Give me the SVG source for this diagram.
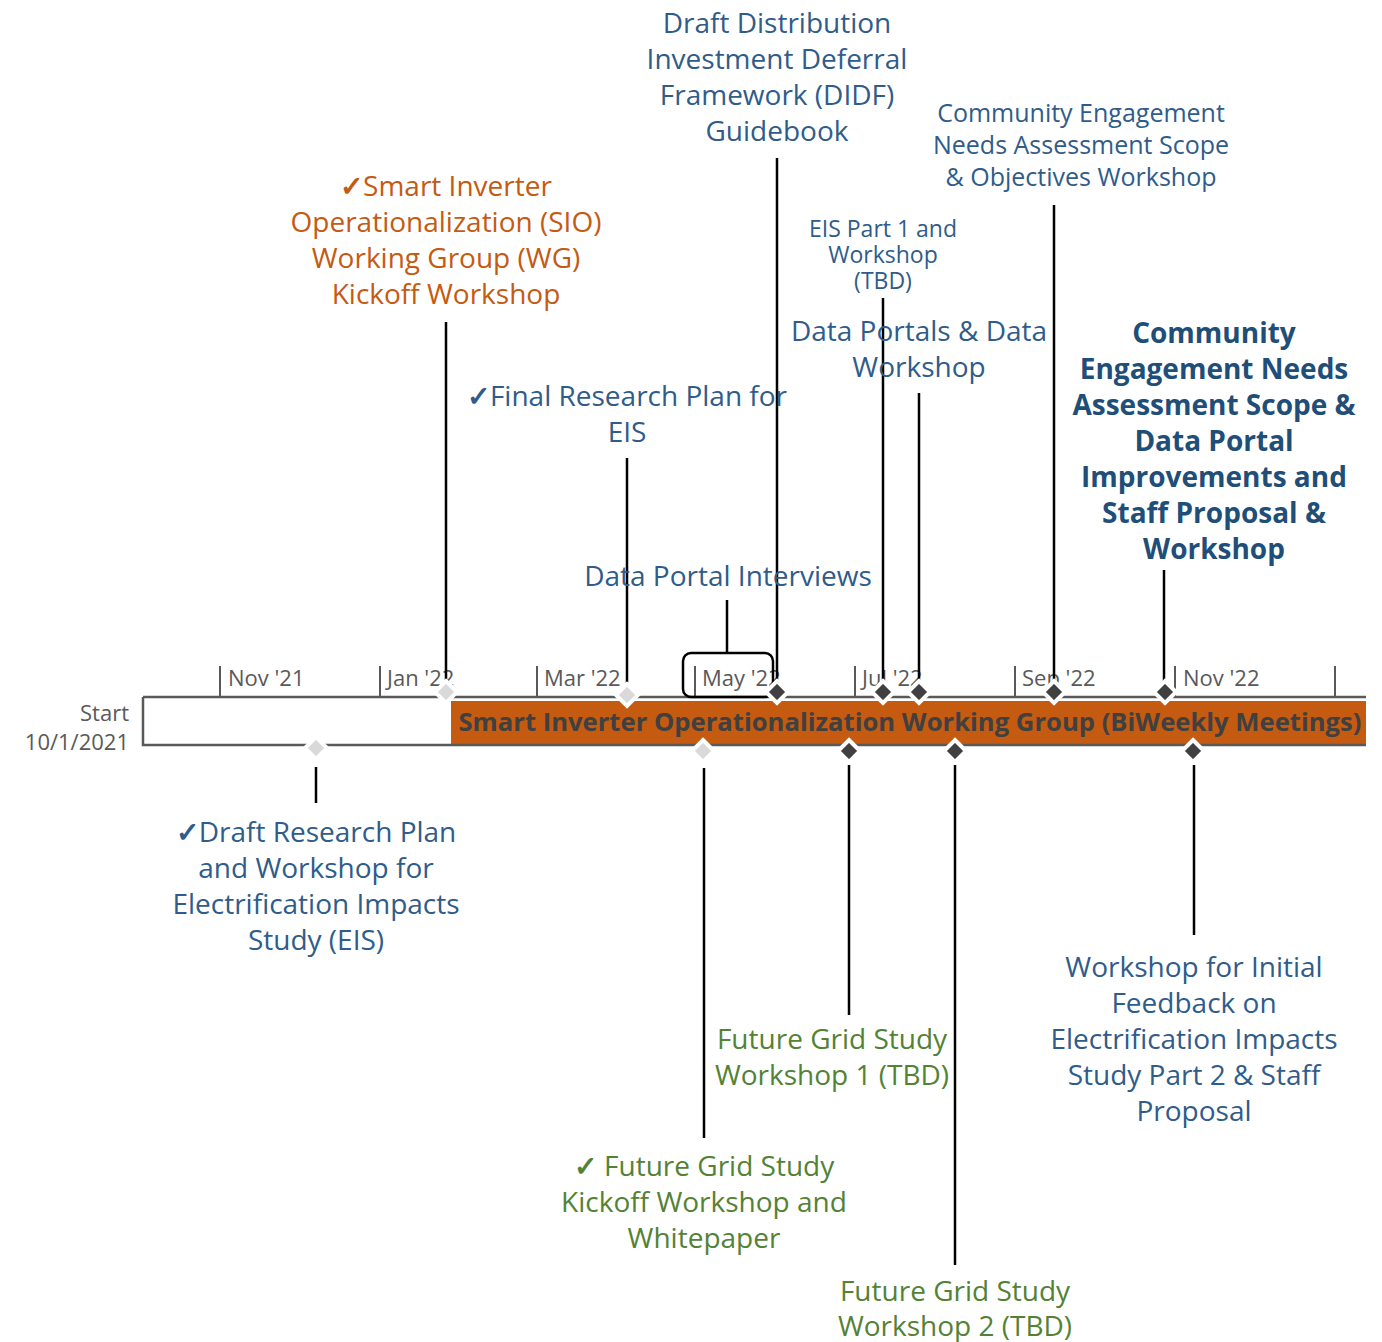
<svg xmlns="http://www.w3.org/2000/svg" width="1382" height="1342" viewBox="0 0 1382 1342">
<style>
text{font-family:"Open Sans","Noto Sans","Liberation Sans",sans-serif;text-anchor:middle}
.b{fill:#2F5C8A;font-size:28px}
.bs{fill:#2F5C8A;font-size:25px}
.bx{fill:#2F5C8A;font-size:23px}
.o{fill:#C55A11;font-size:28px}
.g{fill:#548235;font-size:28px}
.bb{fill:#1F4E79;font-size:28px;font-weight:bold}
.tk{fill:#595959;font-size:22px;text-anchor:start}
.st{fill:#595959;font-size:22px;text-anchor:end}
.ck{font-weight:bold}
.ln{stroke:#000;stroke-width:2.5;fill:none}
.tick{stroke:#595959;stroke-width:2}
.dk{fill:#404040;stroke:#fff;stroke-width:4}
.lt{fill:#D9D9D9;stroke:#fff;stroke-width:4}
</style>
<rect width="1382" height="1342" fill="#fff"/>
<g id="timeline">
<rect x="451" y="701" width="915" height="45" fill="#C55A11"/>
<path d="M143,697 H1366 M143,697 V745 H1366" stroke="#595959" stroke-width="2.5" fill="none"/>
<line class="tick" x1="220" y1="666" x2="220" y2="697"/>
<line class="tick" x1="380" y1="666" x2="380" y2="697"/>
<line class="tick" x1="537" y1="666" x2="537" y2="697"/>
<line class="tick" x1="695" y1="666" x2="695" y2="697"/>
<line class="tick" x1="855" y1="666" x2="855" y2="697"/>
<line class="tick" x1="1015" y1="666" x2="1015" y2="697"/>
<line class="tick" x1="1175" y1="666" x2="1175" y2="697"/>
<line class="tick" x1="1335" y1="666" x2="1335" y2="697"/>
<text class="tk" x="228" y="686">Nov '21</text>
<text class="tk" x="387" y="686">Jan '22</text>
<text class="tk" x="544" y="686">Mar '22</text>
<text class="tk" x="702" y="686">May '22</text>
<text class="tk" x="862" y="686">Jul '22</text>
<text class="tk" x="1022" y="686">Sep '22</text>
<text class="tk" x="1183" y="686">Nov '22</text>
<text class="st" x="129" y="721">Start</text>
<text class="st" x="129" y="750">10/1/2021</text>
<text x="910" y="731" style="font-size:25px;font-weight:bold;fill:#404040" textLength="903" lengthAdjust="spacingAndGlyphs">Smart Inverter Operationalization Working Group (BiWeekly Meetings)</text>
</g>
<g id="connectors">
<line class="ln" x1="446" y1="322" x2="446" y2="690"/>
<line class="ln" x1="627" y1="458" x2="627" y2="690"/>
<line class="ln" x1="777" y1="158" x2="777" y2="690"/>
<line class="ln" x1="883" y1="298" x2="883" y2="690"/>
<line class="ln" x1="919" y1="393" x2="919" y2="690"/>
<line class="ln" x1="1054" y1="205" x2="1054" y2="690"/>
<line class="ln" x1="1164" y1="570" x2="1164" y2="690"/>
<line class="ln" x1="727" y1="600" x2="727" y2="653"/>
<rect class="ln" x="683" y="653" width="90" height="44" rx="8"/>
<line class="ln" x1="316" y1="767" x2="316" y2="803"/>
<line class="ln" x1="704" y1="768" x2="704" y2="1138"/>
<line class="ln" x1="849" y1="765" x2="849" y2="1015"/>
<line class="ln" x1="955" y1="765" x2="955" y2="1265"/>
<line class="ln" x1="1194" y1="765" x2="1194" y2="935"/>
</g>
<g id="markers">
<path class="lt" d="M446,681 l11,11 l-11,11 l-11,-11z"/>
<path class="lt" d="M627,684 l11,11 l-11,11 l-11,-11z"/>
<path class="dk" d="M777,681 l11,11 l-11,11 l-11,-11z"/>
<path class="dk" d="M883,681 l11,11 l-11,11 l-11,-11z"/>
<path class="dk" d="M919,681 l11,11 l-11,11 l-11,-11z"/>
<path class="dk" d="M1054,681 l11,11 l-11,11 l-11,-11z"/>
<path class="dk" d="M1165,681 l11,11 l-11,11 l-11,-11z"/>
<path class="lt" d="M316,737 l11,11 l-11,11 l-11,-11z"/>
<path class="lt" d="M703,740 l11,11 l-11,11 l-11,-11z"/>
<path class="dk" d="M849,740 l11,11 l-11,11 l-11,-11z"/>
<path class="dk" d="M955,740 l11,11 l-11,11 l-11,-11z"/>
<path class="dk" d="M1193,740 l11,11 l-11,11 l-11,-11z"/>
</g>
<g id="didf">
<text class="b" x="777" y="33">Draft Distribution</text>
<text class="b" x="777" y="69">Investment Deferral</text>
<text class="b" x="777" y="105">Framework (DIDF)</text>
<text class="b" x="777" y="141">Guidebook</text>
</g>
<g id="ce-workshop">
<text class="bs" x="1081" y="122">Community Engagement</text>
<text class="bs" x="1081" y="154">Needs Assessment Scope</text>
<text class="bs" x="1081" y="186">&amp; Objectives Workshop</text>
</g>
<g id="eis-part1">
<text class="bx" x="883" y="237">EIS Part 1 and</text>
<text class="bx" x="883" y="263">Workshop</text>
<text class="bx" x="883" y="289">(TBD)</text>
</g>
<g id="data-portals">
<text class="b" x="919" y="341">Data Portals &amp; Data</text>
<text class="b" x="919" y="377">Workshop</text>
</g>
<g id="sio-kickoff">
<text class="o" x="446" y="196"><tspan class="ck">✓</tspan>Smart Inverter</text>
<text class="o" x="446" y="232">Operationalization (SIO)</text>
<text class="o" x="446" y="268">Working Group (WG)</text>
<text class="o" x="446" y="304">Kickoff Workshop</text>
</g>
<g id="final-research">
<text class="b" x="627" y="406"><tspan class="ck">✓</tspan>Final Research Plan for</text>
<text class="b" x="627" y="442">EIS</text>
</g>
<g id="dp-interviews">
<text class="b" x="728" y="586">Data Portal Interviews</text>
</g>
<g id="ce-bold">
<text class="bb" x="1214" y="343">Community</text>
<text class="bb" x="1214" y="379">Engagement Needs</text>
<text class="bb" x="1214" y="415">Assessment Scope &amp;</text>
<text class="bb" x="1214" y="451">Data Portal</text>
<text class="bb" x="1214" y="487">Improvements and</text>
<text class="bb" x="1214" y="523">Staff Proposal &amp;</text>
<text class="bb" x="1214" y="559">Workshop</text>
</g>
<g id="draft-research">
<text class="b" x="316" y="842"><tspan class="ck">✓</tspan>Draft Research Plan</text>
<text class="b" x="316" y="878">and Workshop for</text>
<text class="b" x="316" y="914">Electrification Impacts</text>
<text class="b" x="316" y="950">Study (EIS)</text>
</g>
<g id="fgs-w1">
<text class="g" x="832" y="1049">Future Grid Study</text>
<text class="g" x="832" y="1085">Workshop 1 (TBD)</text>
</g>
<g id="fgs-kickoff">
<text class="g" x="704" y="1176"><tspan class="ck">✓</tspan> Future Grid Study</text>
<text class="g" x="704" y="1212">Kickoff Workshop and</text>
<text class="g" x="704" y="1248">Whitepaper</text>
</g>
<g id="fgs-w2">
<text class="g" x="955" y="1301">Future Grid Study</text>
<text class="g" x="955" y="1336">Workshop 2 (TBD)</text>
</g>
<g id="eis-part2">
<text class="b" x="1194" y="977">Workshop for Initial</text>
<text class="b" x="1194" y="1013">Feedback on</text>
<text class="b" x="1194" y="1049">Electrification Impacts</text>
<text class="b" x="1194" y="1085">Study Part 2 &amp; Staff</text>
<text class="b" x="1194" y="1121">Proposal</text>
</g>
</svg>
